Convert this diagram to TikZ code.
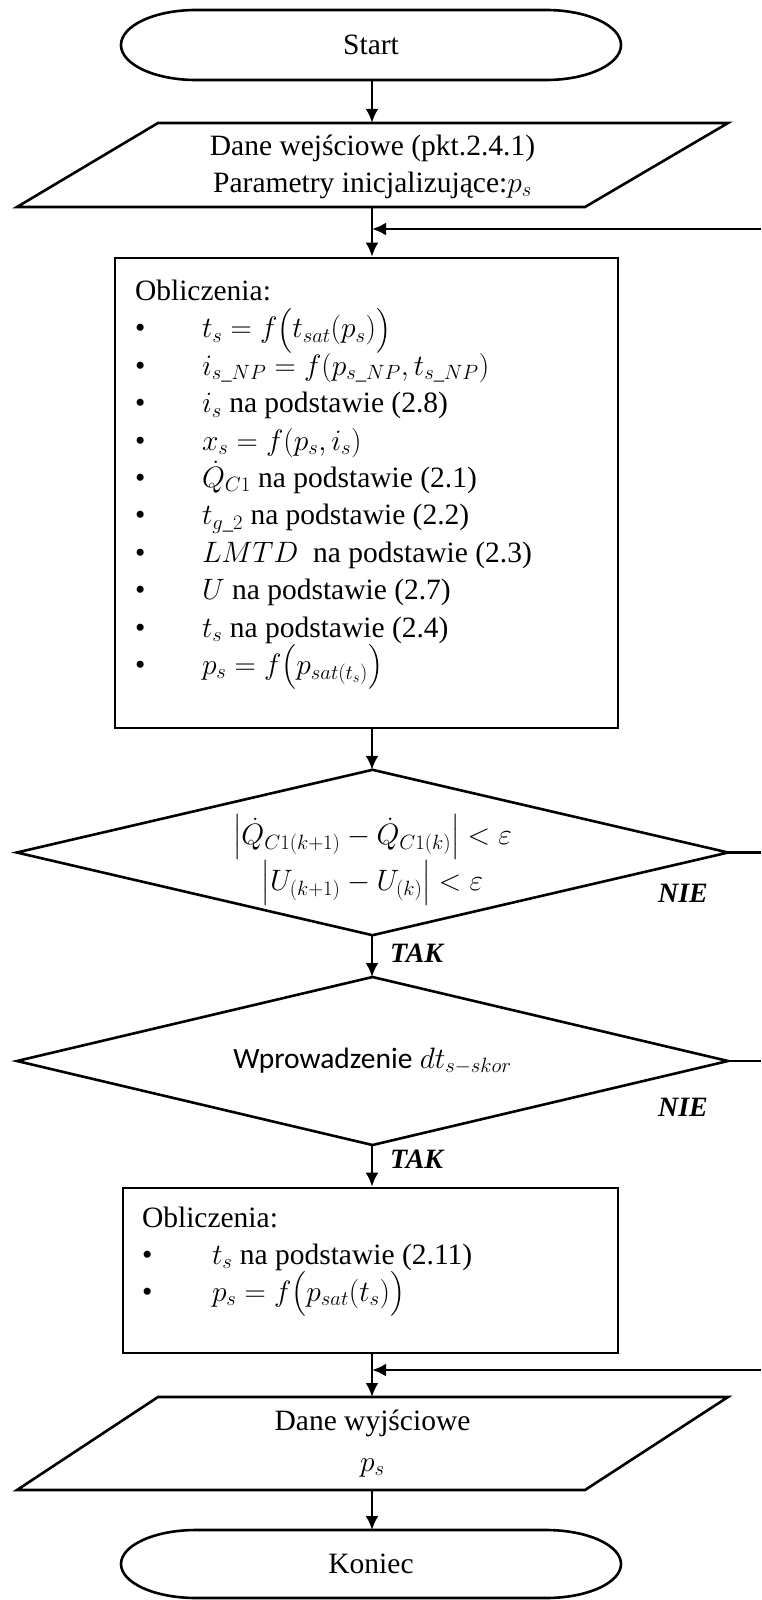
\RequirePackage{fix-cm}
\documentclass[tikz,border=0pt]{standalone}
\usepackage{amsmath}
\usepackage{fontspec}
\setmainfont{Liberation Serif}
\newfontfamily\calibri{Carlito}
\usetikzlibrary{arrows.meta,calc}
\begin{document}
\begin{tikzpicture}[x=1pt,y=-1pt,
  shp/.style={draw=black,line width=2.6pt,line join=miter},
  arr/.style={draw=black,line width=2.6pt,-{Latex[length=14pt,width=13pt]}},
  conn/.style={draw=black,line width=2.6pt},
  txt/.style={inner sep=0pt,outer sep=0pt,align=center,font=\fontsize{29.5}{38}\selectfont},
  lbl/.style={inner sep=0pt,font=\fontsize{28}{30}\selectfont\bfseries\itshape},
  listtxt/.style={inner sep=0pt,outer sep=0pt,align=left,anchor=north west}]
\path[use as bounding box] (0,0) rectangle (761,1600);
\coordinate (ax) at (372,0);
\coordinate (edgeR) at (761,0);

% Start
\node[txt,minimum width=500pt,minimum height=70pt] (start) at (371,45) {Start};
\draw[shp] ($(start.north west)+(75,0)$) -- ($(start.north east)-(75,0)$)
  arc[start angle=-90,end angle=90,x radius=75,y radius=35]
  -- ($(start.south west)+(75,0)$)
  arc[start angle=90,end angle=270,x radius=75,y radius=35] -- cycle;

% input parallelogram
\node[inner sep=0pt,minimum width=711pt,minimum height=84pt] (in) at (372.5,165) {};
\draw[shp] (17,207) -- (158,123) -- (728,123) -- (585,207) -- cycle;
\node[txt,font=\fontsize{29.5}{37}\selectfont] (intxt) at (372.5,167)
  {Dane wejściowe (pkt.2.4.1)\\Parametry inicjalizujące:$p_s$};

% calculation box 1
\node[shp,inner sep=0pt,minimum width=503pt,minimum height=470pt] (calc1) at (366.5,493) {};
\node[listtxt,font=\fontsize{29.5}{37.4}\selectfont] (calc1txt) at (135,280) {%
Obliczenia:\\
\makebox[67pt][l]{\textbullet}$t_s=f\bigl(t_{sat}(p_s)\bigr)$\\
\makebox[67pt][l]{\textbullet}$i_{s\text{\_}NP}=f(p_{s\text{\_}NP},t_{s\text{\_}NP})$\\
\makebox[67pt][l]{\textbullet}$i_s$ na podstawie (2.8)\\
\makebox[67pt][l]{\textbullet}$x_s=f(p_s,i_s)$\\
\makebox[67pt][l]{\textbullet}$\dot{Q}_{C1}$ na podstawie (2.1)\\
\makebox[67pt][l]{\textbullet}$t_{g\text{\_}2}$ na podstawie (2.2)\\
\makebox[67pt][l]{\textbullet}$LMTD$\ \ na podstawie (2.3)\\
\makebox[67pt][l]{\textbullet}$U$ na podstawie (2.7)\\
\makebox[67pt][l]{\textbullet}$t_s$ na podstawie (2.4)\\
\makebox[67pt][l]{\textbullet}$p_s=f\bigl(p_{sat(t_s)}\bigr)$};

% decision 1
\node[inner sep=0pt,minimum width=711pt,minimum height=165pt] (d1) at (372.5,852.5) {};
\draw[shp] (d1.north) -- (d1.east) -- (d1.south) -- (d1.west) -- cycle;
\node[txt,font=\fontsize{29.5}{41}\selectfont] (d1txt) at (372.5,860)
  {$\bigl|\dot{Q}_{C1(k+1)}-\dot{Q}_{C1(k)}\bigr|<\varepsilon$\\
   $\bigl|U_{(k+1)}-U_{(k)}\bigr|<\varepsilon$};

% decision 2
\node[txt,minimum width=711pt,minimum height=168pt] (d2) at (372.5,1061)
  {{\calibri Wprowadzenie} $dt_{s-skor}$};
\draw[shp] (d2.north) -- (d2.east) -- (d2.south) -- (d2.west) -- cycle;

% calculation box 2
\node[shp,inner sep=0pt,minimum width=495pt,minimum height=165pt] (calc2) at (370.5,1270.5) {};
\node[listtxt,font=\fontsize{29.5}{37}\selectfont] (calc2txt) at (142,1207) {%
Obliczenia:\\
\makebox[70pt][l]{\textbullet}$t_s$ na podstawie (2.11)\\
\makebox[70pt][l]{\textbullet}$p_s=f\bigl(p_{sat}(t_s)\bigr)$};

% output parallelogram
\node[txt,font=\fontsize{29.5}{41}\selectfont,minimum width=711pt,minimum height=93pt] (out) at (372.5,1443.5)
  {Dane wyjściowe\\$p_s$};
\draw[shp] (17,1490) -- (158,1397) -- (728,1397) -- (585,1490) -- cycle;

% Koniec
\node[txt,minimum width=500pt,minimum height=68pt] (end) at (371,1564) {Koniec};
\draw[shp] ($(end.north west)+(75,0)$) -- ($(end.north east)-(75,0)$)
  arc[start angle=-90,end angle=90,x radius=75,y radius=34]
  -- ($(end.south west)+(75,0)$)
  arc[start angle=90,end angle=270,x radius=75,y radius=34] -- cycle;

% connectors
\coordinate (fb1) at (761,229);
\coordinate (fb2) at (761,1370);
\draw[arr] (start.south -| ax) -- (in.north -| ax);
\draw[arr] (in.south -| ax) -- (calc1.north -| ax);
\draw[arr] (fb1) -- (fb1 -| ax);
\draw[arr] (calc1.south -| ax) -- (d1.north -| ax);
\draw[arr] (d1.south -| ax) -- (d2.north -| ax);
\draw[conn] (d1.east) -- (d1.east -| edgeR);
\draw[arr] (d2.south -| ax) -- (calc2.north -| ax);
\draw[conn] (d2.east) -- (d2.east -| edgeR);
\draw[arr] (calc2.south -| ax) -- (out.north -| ax);
\draw[arr] (fb2) -- (fb2 -| ax);
\draw[arr] (out.south -| ax) -- (end.north -| ax);

% labels
\node[lbl,anchor=west] (tak1) at (390,953) {TAK};
\node[lbl] (nie1) at (683,893) {NIE};
\node[lbl,anchor=west] (tak2) at (390,1159) {TAK};
\node[lbl] (nie2) at (683,1107) {NIE};
\end{tikzpicture}
\end{document}
